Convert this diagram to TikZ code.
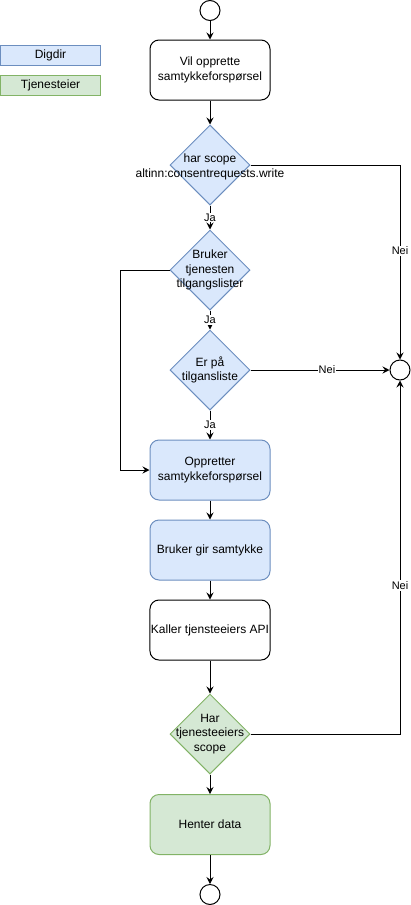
\documentclass[tikz,border=0pt]{standalone}
\usepackage{fontspec}
\setmainfont{Liberation Sans}
\usetikzlibrary{shapes.geometric,arrows.meta}
\definecolor{digdirfill}{HTML}{DAE8FC}
\definecolor{digdirline}{HTML}{6C8EBF}
\definecolor{eierfill}{HTML}{D5E8D4}
\definecolor{eierline}{HTML}{82B366}
\tikzset{
	box/.style={draw,line width=1pt,rounded corners=9pt,minimum width=120pt,minimum height=60pt,align=center,inner sep=1pt,font=\fontsize{12}{14.5}\selectfont},
	valg/.style={diamond,draw,line width=1pt,minimum width=80pt,minimum height=80pt,inner sep=0pt},
	ende/.style={circle,draw,line width=1pt,minimum size=20pt,inner sep=0pt},
	forklaring/.style={draw,line width=1pt,minimum width=100pt,minimum height=20pt,inner sep=0pt,font=\fontsize{12}{14.5}\selectfont},
	digdir/.style={fill=digdirfill,draw=digdirline},
	eier/.style={fill=eierfill,draw=eierline},
	pil/.style={line width=1pt,-{Stealth[length=7pt,width=7pt,inset=2.5pt]}},
	svar/.style={fill=white,inner sep=1pt,font=\fontsize{11}{13}\selectfont}
}
\begin{document}
\begin{tikzpicture}[x=1pt,y=-1pt]
	\useasboundingbox (0,0) rectangle (411,905);
	\node (digdir) [forklaring,digdir] at (50.5,55.5) {Digdir};
	\node (eier) [forklaring,eier] at (50.5,85.5) {Tjenesteier};
	\node (start) [ende] at (210,10.5) {};
	\node (vil) [box] at (210,70) {Vil opprette\\samtykkeforspørsel};
	\node (scope) [valg,digdir,label={[align=center,yshift=-2pt,font=\fontsize{12}{15.5}\selectfont]center:har scope\\altinn:consentrequests.write}] at (210,165) {};
	\node (liste) [valg,digdir,label={[align=center,font=\fontsize{12}{14.5}\selectfont]center:Bruker\\tjenesten\\tilgangslister}] at (210,270) {};
	\node (paa) [valg,digdir,label={[align=center,font=\fontsize{12}{14.5}\selectfont]center:Er på\\tilgansliste}] at (210,370) {};
	\node (nei) [ende] at (400,370) {};
	\node (opprett) [box,digdir] at (210,470) {Oppretter\\samtykkeforspørsel};
	\node (samtykke) [box,digdir] at (210,550) {Bruker gir samtykke};
	\node (kaller) [box] at (210,630) {Kaller tjensteeiers API};
	\node (harscope) [valg,eier,label={[align=center,font=\fontsize{12}{14.5}\selectfont]center:Har\\tjenesteeiers\\scope}] at (210,734) {};
	\node (henter) [box,eier] at (210,824.5) {Henter data};
	\node (slutt) [ende] at (210,894.5) {};
	\coordinate (sving) at (120,270);
	\draw[pil] (start) -- (vil);
	\draw[pil] (vil) -- (scope);
	\draw[pil] (scope) -- node[svar] {Ja} (liste);
	\draw[pil] (scope.east) -| node[svar,pos=0.72] {Nei} (nei.north);
	\draw[pil] (liste.west) -- (sving) |- (opprett.west);
	\draw[pil] (liste) -- node[svar] {Ja} (paa);
	\draw[pil] (paa.east) -- node[svar,pos=0.55] {Nei} (nei.west);
	\draw[pil] (paa) -- node[svar] {Ja} (opprett);
	\draw[pil] (opprett) -- (samtykke);
	\draw[pil] (samtykke) -- (kaller);
	\draw[pil] (kaller) -- (harscope);
	\draw[pil] (harscope.east) -| node[svar,pos=0.71] {Nei} (nei.south);
	\draw[pil] (harscope) -- (henter);
	\draw[pil] (henter) -- (slutt);
\end{tikzpicture}
\end{document}
